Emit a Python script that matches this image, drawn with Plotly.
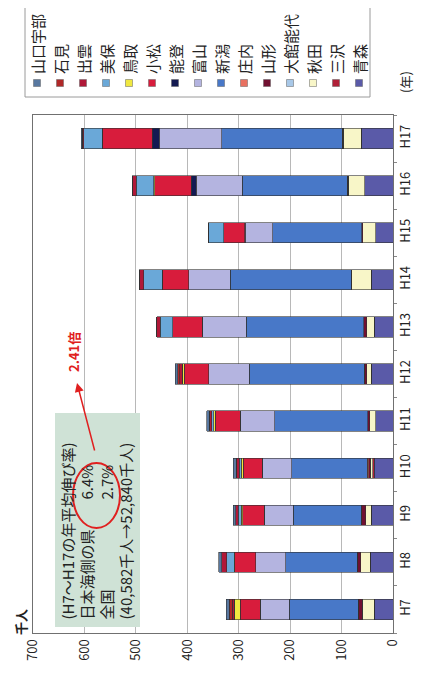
import plotly.graph_objects as go

years = ["H7", "H8", "H9", "H10", "H11", "H12", "H13", "H14", "H15", "H16", "H17"]

# stack order from the axis (0) outward
airports = ["青森", "三沢", "秋田", "大館能代", "山形", "庄内", "新潟", "富山", "能登",
            "小松", "鳥取", "美保", "出雲", "石見", "山口宇部"]

aomori    = [36, 44, 42, 36, 34, 42, 36, 42, 34, 55, 62]
misawa    = [0, 0, 0, 3, 0, 0, 0, 0, 0, 0, 0]
akita     = [24, 19, 11, 5, 11, 9, 15, 38, 25, 32, 35]
odate     = [0, 0, 0, 0, 0, 0, 0, 0, 0, 0, 0]
yamagata  = [8, 7, 9, 3, 4, 5, 6, 1, 2, 2, 2]
shonai    = [0, 0, 0, 3, 0, 0, 0, 0, 0, 0, 0]
niigata   = [134, 139, 132, 147, 181, 224, 228, 235, 173, 204, 234]
toyama    = [56, 58, 56, 57, 67, 78, 86, 81, 53, 90, 122]
noto      = [0, 0, 0, 0, 0, 0, 0, 0, 1, 9, 13]
komatsu   = [39, 41, 42, 37, 49, 48, 57, 52, 41, 71, 97]
tottori   = [11, 1, 3, 4, 3, 4, 0, 0, 0, 2, 0]
miho      = [1, 14, 6, 4, 3, 0, 25, 36, 29, 34, 36]
izumo     = [4, 10, 5, 6, 5, 5, 6, 8, 1, 8, 3]
iwami     = [5, 0, 0, 0, 0, 4, 0, 0, 0, 0, 0]
yamaguchi = [6, 6, 5, 6, 5, 4, 0, 0, 0, 0, 2]

series = [aomori, misawa, akita, odate, yamagata, shonai, niigata, toyama, noto,
          komatsu, tottori, miho, izumo, iwami, yamaguchi]

colors = ["#5a5aa8", "#b02038", "#f8f6c8", "#a8c8e8", "#701030", "#e87060",
          "#4878c8", "#b4b4e0", "#141a52", "#d81c3c", "#f0e840", "#6aa8d8",
          "#b01838", "#b02828", "#5878a0"]

legend_order = list(reversed(airports))
legend_colors = list(reversed(colors))

FONT = "Noto Sans CJK JP, Noto Sans, sans-serif"

fig = go.Figure()
for name, vals, col in zip(airports, series, colors):
    fig.add_trace(go.Bar(
        y=years, x=vals, name=name, orientation="h",
        marker=dict(color=col, line=dict(color="#303030", width=0.6)),
        showlegend=False,
    ))

# page has an 8px body margin: figure starts at (8, 8)
OFF = 8
PAGE_W, PAGE_H = 424, 679
W, H = PAGE_W - OFF, PAGE_H - OFF
PL, PR, PT, PB = 33, 393, 115, 633          # plot area in page pixels
L, R, T, B = PL - OFF, PAGE_W - PR, PT - OFF, PAGE_H - PB
pw, ph = PR - PL, PB - PT

def px(xp):
    return (xp - PL) / pw

def py(yp):
    return (PB - yp) / ph

shapes = []
annotations = []

# legend frame
shapes.append(dict(type="rect", xref="paper", yref="paper",
                   x0=px(25), x1=px(370), y0=py(97), y1=py(3),
                   line=dict(color="#9a9a9a", width=1), fillcolor="white", layer="below"))
for i, (nm, col) in enumerate(zip(legend_order, legend_colors)):
    cx = 37 + i * 23.0
    shapes.append(dict(type="rect", xref="paper", yref="paper",
                       x0=px(cx - 3.5), x1=px(cx + 3.5), y0=py(86.5), y1=py(79.5),
                       line=dict(color="#606060", width=0.5), fillcolor=col))
    annotations.append(dict(text=nm, xref="paper", yref="paper", x=px(cx), y=py(76),
                            xanchor="center", yanchor="bottom", textangle=-90,
                            showarrow=False, font=dict(size=15, color="#222", family=FONT)))

# note box (shape so the ellipse can sit on top)
shapes.append(dict(type="rect", xref="paper", yref="paper",
                   x0=px(55), x1=px(140), y0=py(627), y1=py(413),
                   line=dict(width=0), fillcolor="#cfe2d6"))
annotations.append(dict(
    text="(H7～H17の年平均伸び率)<br>日本海側の県　　6.4%<br>全国　　　　　　2.7%<br>(40,582千人→52,840千人)",
    xref="paper", yref="paper", x=px(96), y=py(622), xanchor="center", yanchor="bottom",
    textangle=-90, showarrow=False, align="left",
    font=dict(size=15, color="#222", family=FONT)))

# red ellipse
shapes.append(dict(type="circle", xref="paper", yref="paper",
                   x0=px(73), x1=px(120), y0=py(528), y1=py(463),
                   line=dict(color="#e02020", width=2)))

# arrow
annotations.append(dict(text="", xref="paper", yref="paper", x=px(77), y=py(383),
                        ax=18, ay=69, showarrow=True, arrowhead=2, arrowsize=1.2,
                        arrowwidth=1.5, arrowcolor="#e02020"))
annotations.append(dict(text="<b>2.41倍</b>", xref="paper", yref="paper", x=px(73), y=py(352),
                        xanchor="center", yanchor="middle", textangle=-90, showarrow=False,
                        font=dict(size=13, color="#e02020", family=FONT)))

# unit labels
annotations.append(dict(text="<b>千人</b>", xref="paper", yref="paper", x=px(20), y=py(622),
                        xanchor="center", yanchor="middle", textangle=-90, showarrow=False,
                        font=dict(size=13, color="#222", family=FONT)))
annotations.append(dict(text="(年)", xref="paper", yref="paper", x=px(405), y=py(82),
                        xanchor="center", yanchor="middle", textangle=-90, showarrow=False,
                        font=dict(size=13, color="#222", family=FONT)))

fig.update_layout(
    width=W, height=H, autosize=False,
    margin=dict(l=L, r=R, t=T, b=B, autoexpand=False),
    paper_bgcolor="white", plot_bgcolor="white",
    barmode="stack", bargap=0.57,
    font=dict(family=FONT, size=12, color="#222"),
    shapes=shapes, annotations=annotations,
    xaxis=dict(range=[700, 0], dtick=100, tickangle=-90, showgrid=True,
               gridcolor="#b8b8b8", gridwidth=1, zeroline=False,
               showline=True, linecolor="#707070", mirror=True, ticks="",
               tickfont=dict(size=13, family=FONT)),
    yaxis=dict(categoryorder="array", categoryarray=years, side="right",
               tickangle=-90, showline=True, linecolor="#707070", mirror=True,
               ticks="outside", tickson="boundaries", ticklen=3, tickcolor="#888",
               showgrid=False, tickfont=dict(size=13, family=FONT)),
)

fig.write_html("out.html")
